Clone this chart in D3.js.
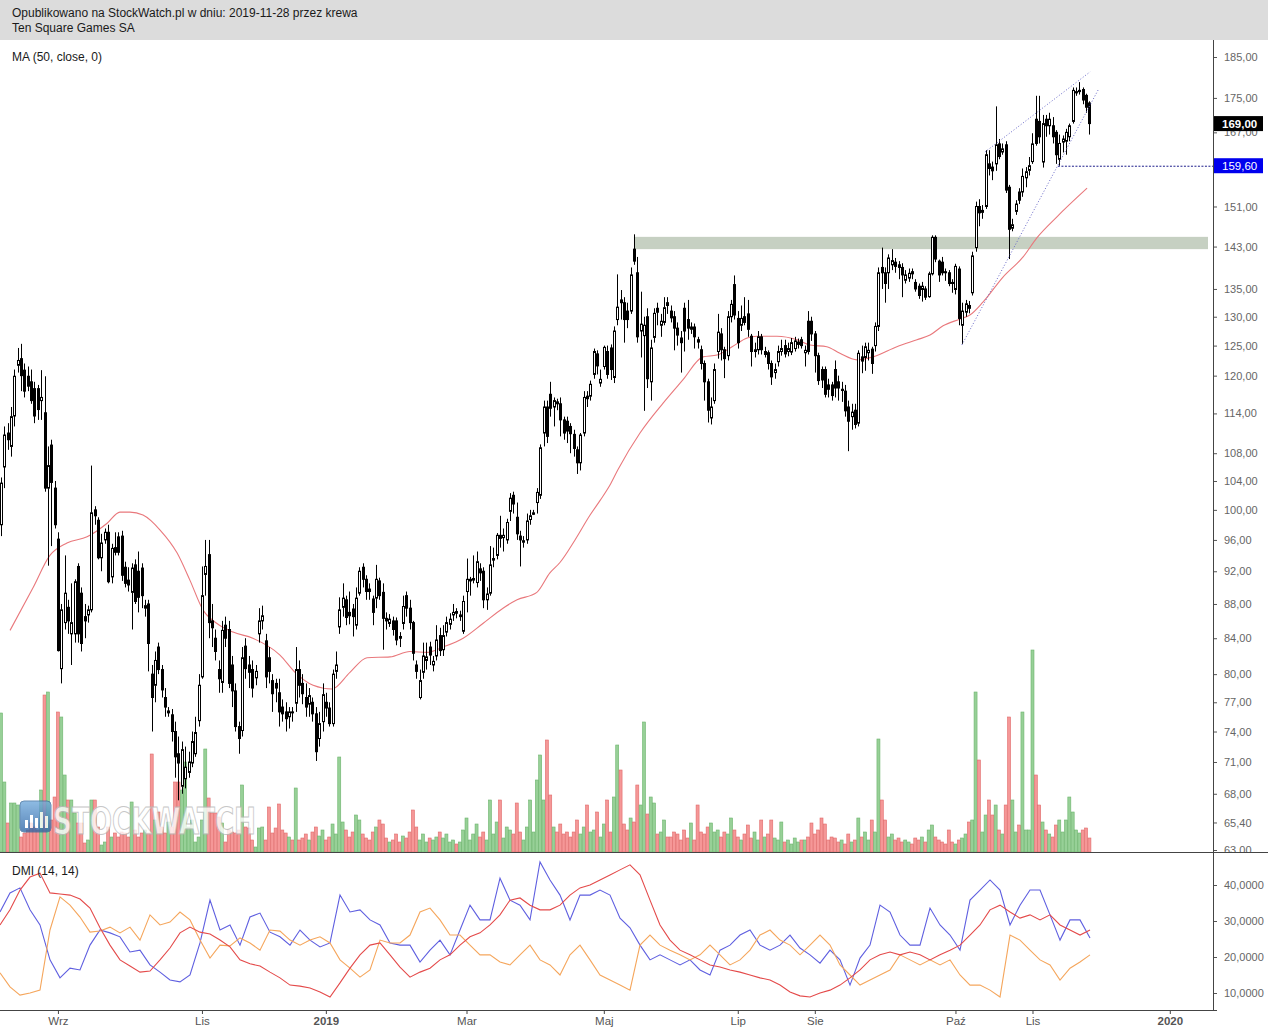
<!DOCTYPE html>
<html><head><meta charset="utf-8">
<script src="https://cdn.jsdelivr.net/npm/d3@7"></script>
<style>
html,body{margin:0;padding:0;background:#fff;}
svg{display:block;font-family:"Liberation Sans",Arial,sans-serif;}
</style></head><body>
<svg id="c" width="1268" height="1030"></svg>
<script>
// ---------- DATA ----------
const headerLine1 = "Opublikowano na StockWatch.pl w dniu: 2019-11-28 przez krewa";
const headerLine2 = "Ten Square Games SA";
const maLabel = "MA (50, close, 0)";
const dmiLabel = "DMI (14, 14)";

const opens = [
98,106,111,109,113.6,121.7,122.8,120.9,119.9,119,
117.9,117.9,116,114.1,103,109.2,103,96.1,80.6,85.8,
87.6,84.5,84.5,92.6,89.3,86.5,86.7,87.3,100,98.6,
93.7,96,97,91.3,95,96.4,96.5,92.5,90.9,89.4,
92.8,92,92.4,87.5,88,80,78.8,83,80.5,77.5,
75.9,75.7,74,71.8,68.7,69.4,70,70.9,71.8,75.1,
79.7,91.6,94.1,86,84,80.5,79.1,85.5,85,81,
78.2,74.5,74.1,83.1,81,80.5,79.6,84.5,86,83.7,
81.8,79.3,79,78,76.5,76,75.5,76,76.9,80.5,
79,77.5,76.8,77,75.8,73.3,75,77,76.4,74.8,
80.3,85.3,87.6,88.5,87,87.4,85.5,89.3,92.5,91,
89.8,88.6,88.7,90.8,89.4,86.3,85.7,86,86,84.2,
85.7,89,87.5,85.8,81,77.5,80.2,81.5,83,81,
82,84.3,82.7,84.7,85.6,86.7,87.1,86.5,84.8,89.5,
90.8,90.9,90.6,92.3,92,88.5,89.3,93.4,94,96.6,
96.3,96,99.8,102,99,96.5,95.7,96,98.7,99.4,
101,102,111,115,117,115,115.8,115.5,113,112.8,
112,110.8,108.5,106.6,111,116.7,116.7,120.2,123.6,118.8,
121.5,124,124.6,119.7,129.5,133,132.5,131,131,142.5,
138,127.5,126.7,130,119,126.4,131.5,128.5,129,132.5,
131,130,128,126.3,131.5,129.5,127.8,128.2,126,124.3,
122,119,113.3,116,124,127,124.3,123.3,130,135.8,
129.7,128.5,130,130.5,126.6,124,124.3,126.5,123.5,123.8,
122,120.5,122.3,124,125,124,123.9,124.5,125.2,126,
123.8,129.2,129.2,127,123.3,121,121,118.5,118.5,121,
119,117.6,117.5,115,113.5,114.5,112.5,123.1,123,123.8,
124.4,125,128.3,139,138,138,139.5,140,139.5,139,
136.6,137,138.2,136.2,135.5,134.9,135,133.6,137.8,144.8,
140.2,140,138.2,138,136.2,134.9,138.7,128.5,130.8,132,
134.3,142.8,151,149.8,151,160,159.3,160,164.4,162.6,
164.2,155,146.6,150,154,154,157,158.6,160.5,170,
169.5,160.4,170,168.5,168.5,167,161,164.8,165,166,
169.5,176.2,176.5,177,175.6,173.8];

const highs = [
104.5,112,112.5,115,121,124.6,125.3,122,121.5,121,
119,118.5,120.9,119.9,109,110,104,97,88,94,
88.5,90.5,91,93,90,88,87.8,106.2,100.5,99,
96.8,97.5,98,95.5,97,97,97.2,93.2,92.5,93,
93.5,94.5,93,88.5,88.5,81,82.5,83.5,81,78.5,
76.5,76.3,75,73.5,73,72.5,72,74,75.5,80,
92.6,96,96,88,85,81.5,86,86.5,86,82,
79,75,83,84,82,81.5,81,87.5,87.8,84.5,
83,80,79.5,79.5,77.3,77,76.5,76.5,83,81.5,
80,79,78.5,77.5,76.5,76,79,78,77,80.5,
82.5,88.8,90.5,89,89.5,88,90,92.5,93,91.5,
90.5,89,92.8,91.2,90.5,87,86.8,86.5,86.4,84.7,
89,89.5,88.5,86,81.5,80.5,83.5,83.5,83.6,82,
85.5,85.2,85.5,86.5,86.9,88,87.5,87.2,89,93.6,
91.3,94,94.5,93,92.5,90,95.2,95,96.9,99.2,
97.5,98.8,102.3,102.5,101,97.2,96.5,99.5,100,100,
103,109.3,116,116,119,116.5,116.3,116.5,113.5,113.5,
112.5,111.5,109,111,117.5,117.5,119.2,124.5,124.2,121,
125,125,125.2,128.3,137.7,134.8,133.5,132.5,139,145.4,
141,134.5,130,131.5,126,131.5,132.5,130.5,133.5,133.5,
132,131,129,127.5,132.5,133,129,128.8,126.5,125,
122.5,119.5,116.5,122,130.5,128,124.8,131,133,137.5,
131,132,133.5,133,127,125.5,127.5,127,124.8,124.2,
122.5,122,125,126,126,125.5,126.3,126.5,126.2,126.5,
125,131,130,127.5,123.8,121.5,121.5,119.5,119,122.5,
120,119,118.5,116,115.5,115.5,124.2,125,125.5,125.5,
124.8,129,139,142.8,139,141.5,142.5,140.8,140.2,139.8,
138.5,138.8,138.8,136.8,136,136.3,135.5,138.2,145.2,145.2,
140.5,141,138.8,138.5,136.8,139.7,139.2,132.5,133,132.8,
142,152,152.5,151.3,163,163,160.5,173,165.5,164.5,
165,155.5,148.5,152.3,154.8,159,159.3,161.5,166.8,175.5,
175.5,171,171,171.5,170.5,167.5,166.5,166.3,167.8,169,
177.5,177.5,178.8,177.5,176,174.2];

const lows = [
96.5,103,108.5,107.5,112,120.5,117.5,116.5,117.5,115.5,
112.5,113,113,102.5,92.7,95.2,97.5,82.5,79,85,
84.5,81,83.5,83.5,82.5,84,85.8,87,98,93.5,
92,95.5,90.5,90.5,94,94,90.8,90,89.5,85,
88,87,87.5,86.5,80.3,74,77,80,77.5,75.5,
75.5,73,69.5,67.4,68,68.5,69.5,70.5,71.5,74.5,
79.5,89,84,83,81.5,78,78,83,78.5,76.5,
74,71.8,73.5,79.5,78.5,77.5,78.8,83.5,85,78.5,
79,76,77,74.5,75,74,74.3,75,76,77.5,
76.8,75.5,75.5,75,71.1,72.5,74,75.5,74.5,74.5,
79.5,84.5,86.5,85.5,85.6,84.2,85,89,90,88.5,
88.5,85.5,87.5,88.5,82.7,85,85.3,84.3,83.2,83,
85,86.5,85,81.5,79.5,77.3,79.5,80.5,81,80.3,
81.5,82,82,84.2,85,86,86.3,86,84.5,87,
89,90.5,90,90.8,87.5,87.3,89,92.5,93.5,95,
94.5,95.5,98.5,99.5,96,92.6,95,95.5,98,99.3,
99.5,101.5,109,109.5,113.5,112,114.5,110.5,110,109.5,
108,107.5,105,105.5,110.5,115,116,119.5,120.2,118.2,
121,119.5,119.3,118.8,128.5,129.5,125.5,128,130.5,139.5,
125.5,123,114.4,118,116,125.5,128.5,126.5,128.5,130.5,
129,124.2,125,120.5,124,126,127,124.5,124.5,121,
116,112.6,112.3,115.5,122.8,122.5,119.6,122.5,129,129.5,
124.5,127.5,128.5,126.5,121.5,123,123.5,123.5,123,121,
118.5,119.5,121.5,123.3,123,123.2,123.4,124,124.5,124.5,
121.5,123.5,125.8,120.5,118.5,118,116.5,116.5,116,116.5,
116,115.8,113.5,108.3,111.5,111.7,112,120.4,120.8,122.5,
120.3,124,127.5,135,132.5,135,138.5,138,136.8,133.5,
136,136.3,136.8,134.5,133.2,132.7,133,133.4,137.5,140,
136.3,137.5,136.5,135.5,134.3,134,128.5,125.3,130,130.6,
133.8,142,147,148.5,150.5,157.5,156.5,158.5,161,162,
153.8,140.6,146,149.3,151.5,153,155,157.5,160,164,
164.5,159.2,166,166.5,164.5,160,159.6,162.5,162,165,
169,175.5,175.8,173.5,171.5,166.5];

const closes = [
103.7,110.7,110,113.5,119.9,122.5,120,117.5,118.3,116,
113.6,114.6,116.5,103,106.2,103.8,98,82.6,87.3,89.3,
86,85.8,90.7,84.5,83.4,86,87.3,99.6,99.2,93.7,
95.6,97,90.7,94.9,94.4,94.4,91.5,90.5,90.3,92.4,
88.3,88.8,89,87.8,83.4,77.5,81.5,80.5,78.3,76.5,
76.1,74,71.5,70.9,72.2,70.5,71,73,73.9,78.8,
89,92.6,85.8,85.2,82.5,79.5,84.9,84,79,78.2,
74.5,73.3,81.8,80.6,80.2,78.5,80.3,86,86.6,79.7,
80.3,77.9,78.5,76,75.8,75.3,76,75.9,80.5,78.8,
77.9,76.5,77.7,75.8,72,74.8,77.8,76.4,74.8,80,
81,87.3,88.7,86.4,86.6,86.5,88.7,92,91,89.5,
89.5,87,91,89,86.3,86,86.2,85,83.8,84,
87.7,87.5,85.8,82.3,80.3,79.3,82,81.9,82.1,81.4,
83.8,82.6,84.3,85.8,86.2,87,86.9,86.7,88.3,91,
91,91.1,93.2,91.8,88.5,89.2,92.8,93.6,96.6,96.2,
96.6,98.3,101.6,100.8,96.8,96,95.9,98.5,99.2,99.6,
102.4,108.8,115,110.5,114.8,116,115.5,113,111,111.3,
110.9,108.7,106.6,110.7,116.5,116.3,118.6,124,121.6,119.4,
124.7,120.2,121,127.5,131.7,132.5,129.5,129.5,137.6,140.2,
126.5,128.7,128.5,119.5,124.6,130.6,130.8,129.2,131.6,132,
129.8,128,126.8,125.5,127.5,128,128.2,126.5,125.6,122,
119,114.5,115,121,127.3,124.3,122.8,130,132.2,130.3,
125.5,129.7,129,127.8,124,124.3,126.5,124.3,124,122,
119.8,121,124,124.5,123.6,124.5,125.5,125.8,125.6,125,
124.2,124,127,123.3,119.2,119.3,117,117.8,116.8,118,
118,117.8,114.4,112.8,114.2,112.3,123.7,122.4,124.8,124.2,
122,128.3,138,138,136,140.8,140.3,139.2,139,137.6,
137.6,137.9,137.8,135,133.8,135.5,133.5,137.8,144.8,140.6,
137.6,138,138,136,136,139.2,129.7,131,132.3,131.5,
141.2,151,149.7,150.2,162,159,158.5,164.2,161.6,163.3,
154.4,146.4,147.3,151.5,152.3,157.3,158.3,159.6,164.4,164.5,
166,169,168.5,170,166,162,164.5,165.5,167,168.5,
176.8,176.5,176.8,174.5,172.8,169];

const volumes = [
139,70,29,49,49,47,15,19,22,29,
25,22,62,157,160,32,55,140,135,77,
52,52,39,29,29,9,12,52,52,25,
7,10,25,15,19,15,20,19,15,50,
22,15,19,22,19,98,32,40,25,19,
30,25,70,70,62,90,25,32,10,15,
32,103,54,39,39,35,29,10,22,20,
19,22,67,25,24,12,5,24,25,12,
45,19,24,48,22,19,15,12,64,12,
14,18,12,20,25,16,22,12,15,28,
18,95,30,22,15,20,37,32,18,14,
12,20,25,32,28,14,10,12,18,10,
16,14,20,42,25,12,18,10,14,12,
15,20,14,18,10,12,8,10,22,34,
12,18,28,15,20,12,52,18,30,52,
14,25,22,18,49,20,12,25,52,20,
72,97,52,112,57,25,20,28,18,20,
15,20,32,18,25,47,20,22,40,15,
28,52,20,55,107,82,28,22,34,30,
67,47,130,38,55,49,18,20,32,15,
15,20,18,12,22,14,29,12,47,20,
18,25,29,20,22,15,20,18,34,22,
15,12,18,27,14,20,12,32,15,18,
32,14,12,30,10,12,8,14,10,12,
12,15,29,18,22,34,28,12,15,14,
10,12,8,18,10,12,34,15,20,12,
32,20,113,52,32,15,18,12,14,10,
12,10,8,14,12,15,10,22,27,15,
12,10,8,22,10,8,12,14,18,30,
32,160,92,20,37,52,37,47,22,18,
47,135,52,20,27,140,22,22,202,77,
47,30,22,18,15,27,32,20,32,55,
40,22,19,22,24,14];

// MA(50) line: session index and value
const maIdx = [2.7,9.6,14.6,19.7,25.7,31.7,35.5,38.5,42.4,47.5,52.6,56.4,60.3,64.5,69.3,75.2,83.3,87.8,93.2,98.8,104.2,109.3,116.2,122.1,127.2,132,138,143.9,149.9,154.1,160,163.9,166.9,171.4,175.9,178.9,181.8,184.2,190.8,197.7,203.6,209.6,213.8,218.3,222.8,225.7,231.7,237.7,241.6,246.6,250.5,255.6,260.4,267.5,273.5,277.4,281.3,286.4,289.3,293.2,299.2,305.2,309.3,315.3,324.3];
const maVal = [84.9,90,94,95.6,96.4,98.2,99.7,99.7,99.3,97.3,94.3,90.9,87.3,85.7,84.7,84,82.1,80.2,78.8,78.4,80.2,81.8,81.9,82.5,82.4,83,84,85.7,87.5,88.5,89.4,91.8,93.1,96,99.3,101.3,103.4,105.6,111,115.6,119.3,123.1,123.4,124.8,126.3,126.6,126.6,126,125.1,124.8,123.7,122.6,123.1,124.8,126,126.8,128.4,129.6,130.3,132.6,137.2,141,144.7,148.9,154.8];

// DMI, sampled about every 3 sessions
const diPlus = [32.5,37.8,39.2,33.1,28.9,19.2,14.2,16.9,16.4,23.3,
27.5,26.7,25.6,21.4,21.9,17.8,15.8,13.6,13.1,15,
23.9,35.8,27.5,28.9,23.3,31.1,32.2,26.9,25.6,23.3,
27.5,24.7,22.8,23.9,37.2,32.5,33.1,30.3,28.9,23.9,
23.3,23.3,18.6,21.9,24.7,20.6,27.5,34.4,30.3,30.3,
41.9,35.8,34.4,30.3,46.4,41.4,37.2,30.3,37.2,37.2,
38.6,37.2,30.8,28.1,23.3,19.2,20.6,19.2,17.8,19.2,
16.4,15,21.9,23.3,26.1,27.5,23.3,21.9,23.3,26.1,
22.5,20.6,18.3,21.9,19.2,12.2,19.7,23.3,34.4,32.5,
26.1,23.3,23.3,33.6,28.9,26.1,21.9,35.8,38.6,41.4,
38.6,28.9,34.4,38.6,38.6,31.7,24.7,30.3,30.3,25.3];
const diMinus = [15.6,11.7,9.4,10,10.8,27.5,36.7,34.4,31.1,26.9,
27.2,28.3,26.7,28.3,24.7,31.7,28.9,29.7,32.5,30.3,
24.7,19.7,23.3,23.1,25.3,23.9,21.9,27.5,27.2,24.7,
23.3,24.7,25.6,23.9,19.2,16.9,14.4,16.4,24.7,23.9,
23.9,26.1,32.5,33.6,30.3,26.1,26.1,23.3,20.6,20.6,
18.6,17.8,20.6,23.3,19.2,17.8,15,20.6,23.3,19.2,
15,13.6,12.2,10.8,23.3,26.1,23.3,21.9,20.6,19.2,
20.6,23.3,20.6,17.8,19.2,21.9,26.1,27.5,24.7,23.3,
20.6,23.3,26.1,23.3,17.8,15,12.2,13.6,15,16.4,
20.6,19.2,17.8,19.2,17.8,19.2,15,12.2,12.2,10.8,
8.9,26.1,24.7,21.9,19.2,17.8,13.6,16.9,18.6,20.6];
const adx = [28.9,33.1,38.6,42.2,43.3,37.8,37.5,37.2,36.1,33.6,
28.1,23.3,19.2,17.5,15.8,16.1,19.2,22.5,26.7,28.3,
26.9,26.4,24.7,22.8,19.2,18.1,17.5,15.8,14.2,12.2,
11.9,11.4,10.3,8.9,12.8,16.9,20.6,23.3,23.9,20.6,
17.2,14.4,15.8,16.9,19.2,20.6,23.3,25.6,26.7,28.9,
31.7,35.8,36.4,34.4,33.1,33.1,34.4,37.2,39.2,40,
41.4,42.8,44.2,45.6,42.8,35.8,28.9,24.7,21.9,20.6,
19.2,17.8,17.2,16.4,15.8,15,14.2,13.6,12.2,10.3,
9.2,8.9,10,10.8,12.2,14.2,16.4,19.2,20.6,21.4,
20.6,21.4,20.6,19.2,20.6,21.9,23.3,26.1,28.9,33.1,
34.4,32.5,30.8,31.7,30.3,31.7,28.9,27.5,26.1,27.5];

const priceTicks = [185,175,167,151,143,135,130,125,120,114,108,104,100,96,92,88,84,80,77,74,71,68,65.4,63];
const dmiTicks = [40,30,20,10];
const monthIdx = [17,60,97,139,180,220,243,285,308,349];
const monthLabels = ["Wrz","Lis","2019","Mar","Maj","Lip","Sie","Paź","Lis","2020"];
const boldLabels = ["2019","2020"];

const lastPrice = 169.00;
const supportLevel = 159.60;
const zone = {startIdx:189, low:142.5, high:144.9};
const trendLower = [[286.9,125.1],[327.6,176.9]];
const trendUpper = [[293.8,162.6],[325.2,181.3]];
const supportStart = 315.6;

// ---------- LAYOUT ----------
const W=1268, H=1030, axisX=1213;
const mainTop=40, mainBot=852, dmiBot=1010;
const svg=d3.select('#c');

const x=d3.scaleLinear().domain([0,362]).range([1,1+3.349*362]);
const y=d3.scaleLog().domain([63,185]).range([850,57]);
const yv=d3.scaleLinear().domain([0,202]).range([mainBot,650]);
const yd=d3.scaleLinear().domain([0,40]).range([1029,885]);
const comma=(f)=>d=>f(d).replace('.',',');

const defs=svg.append('defs');
defs.append('clipPath').attr('id','cm').append('rect').attr('x',0).attr('y',mainTop).attr('width',axisX).attr('height',mainBot-mainTop);
defs.append('clipPath').attr('id','cd').append('rect').attr('x',0).attr('y',mainBot).attr('width',axisX).attr('height',dmiBot-mainBot);
defs.append('clipPath').attr('id','ca').append('rect').attr('x',axisX-5).attr('y',mainTop).attr('width',60).attr('height',mainBot-mainTop);
const lg=defs.append('linearGradient').attr('id','lg').attr('x1',0).attr('y1',0).attr('x2',0).attr('y2',1);
lg.append('stop').attr('offset','0').attr('stop-color','#6fa9dc');
lg.append('stop').attr('offset','1').attr('stop-color','#2c64a4');

// header
svg.append('rect').attr('x',0).attr('y',0).attr('width',W).attr('height',mainTop).attr('fill','#dcdcdc');
svg.append('text').attr('x',12).attr('y',17).attr('font-size',12).attr('fill','#1a1a1a').text(headerLine1);
svg.append('text').attr('x',12).attr('y',32).attr('font-size',12).attr('fill','#1a1a1a').text(headerLine2);

// main panel
const gm=svg.append('g').attr('clip-path','url(#cm)');
gm.append('rect').attr('x',x(zone.startIdx)).attr('y',y(zone.high))
  .attr('width',axisX-5-x(zone.startIdx)).attr('height',y(zone.low)-y(zone.high)).attr('fill','#c6d0c2');

const idx=d3.range(closes.length);
const up=i=>closes[i]>=opens[i];
gm.append('g').selectAll('rect').data(idx).join('rect')
  .attr('x',i=>x(i)-1.5).attr('width',3)
  .attr('y',i=>yv(volumes[i])).attr('height',i=>mainBot-yv(volumes[i]))
  .attr('fill',i=>up(i)?'#97d097':'#f59797')
  .attr('stroke',i=>up(i)?'#6db46d':'#e06a6a').attr('stroke-width',0.6);

// watermark
const wm=gm.append('g').attr('opacity',0.78);
wm.append('rect').attr('x',20).attr('y',801).attr('width',31).attr('height',31).attr('rx',4).attr('fill','url(#lg)').attr('stroke','#3d6f9f').attr('stroke-width',1);
[[25,820],[30,815],[35,818],[40,812],[45,816]].forEach(([bx,by])=>{
  wm.append('rect').attr('x',bx).attr('y',by).attr('width',3).attr('height',828-by).attr('fill','#ffffff');
});
wm.append('text').attr('x',53).attr('y',834).attr('font-size',38).attr('font-weight','bold')
  .attr('font-family','"DejaVu Sans Condensed","DejaVu Sans",sans-serif')
  .attr('textLength',203).attr('lengthAdjust','spacingAndGlyphs')
  .attr('fill','#ffffff').attr('stroke','#b8b8b8').attr('stroke-width',1).text('STOCKWATCH');

// MA
gm.append('path').datum(d3.range(maIdx.length))
  .attr('d',d3.line().x(i=>x(maIdx[i])).y(i=>y(maVal[i])).curve(d3.curveMonotoneX))
  .attr('fill','none').attr('stroke','#e9787c').attr('stroke-width',1.1);

// candles
const cx=i=>Math.round(x(i));
gm.append('g').selectAll('line').data(idx).join('line')
  .attr('x1',i=>cx(i)+0.5).attr('x2',i=>cx(i)+0.5)
  .attr('y1',i=>y(highs[i])).attr('y2',i=>y(lows[i]))
  .attr('stroke','#000').attr('stroke-width',1);
gm.append('g').selectAll('rect').data(idx).join('rect')
  .attr('x',i=>cx(i)-0.5).attr('width',2)
  .attr('y',i=>y(Math.max(opens[i],closes[i])))
  .attr('height',i=>Math.max(0.8,y(Math.min(opens[i],closes[i]))-y(Math.max(opens[i],closes[i]))))
  .attr('fill',i=>up(i)?'#fff':'#000').attr('stroke','#000').attr('stroke-width',1);

// trend lines
[trendLower,trendUpper].forEach(t=>{
  gm.append('line').attr('x1',x(t[0][0])).attr('y1',y(t[0][1])).attr('x2',x(t[1][0])).attr('y2',y(t[1][1]))
    .attr('stroke','#6868c8').attr('stroke-width',1).attr('stroke-dasharray','1,2');
});
gm.append('line').attr('x1',x(supportStart)).attr('x2',axisX).attr('y1',y(supportLevel)+0.5).attr('y2',y(supportLevel)+0.5)
  .attr('stroke','#1c1c8a').attr('stroke-width',1).attr('stroke-dasharray','2,1.5');

svg.append('text').attr('x',12).attr('y',61).attr('font-size',12).attr('fill','#1a1a1a').text(maLabel);

// price axis
const ga=svg.append('g').attr('clip-path','url(#ca)').append('g').attr('transform',`translate(${axisX},0)`)
  .call(d3.axisRight(y).tickValues(priceTicks).tickFormat(comma(d3.format('.2f'))).tickSize(4).tickPadding(7));
ga.select('.domain').remove();
ga.selectAll('line').attr('stroke','#555');
ga.selectAll('text').attr('font-size',11).attr('fill','#666').attr('font-family','"Liberation Sans",Arial,sans-serif');

// price labels
function tag(v,bg,bold){
  const yy=y(v);
  svg.append('rect').attr('x',axisX+1).attr('y',yy-7.5).attr('width',49).attr('height',15).attr('fill',bg);
  svg.append('text').attr('x',axisX+9).attr('y',yy+4.5).attr('font-size',11.5).attr('font-weight',bold?'bold':'normal')
    .attr('fill','#fff').text(comma(d3.format('.2f'))(v));
}
tag(lastPrice,'#000',true);
tag(supportLevel,'#0000ee',false);

// DMI panel
const gd=svg.append('g').attr('clip-path','url(#cd)');
const dIdx=k=>k*2.986-0.3;
[[diPlus,'#5f5fe0'],[diMinus,'#f5a65c'],[adx,'#e44a4a']].forEach(([arr,col])=>{
  gd.append('path').datum(arr).attr('d',d3.line().x((d,k)=>x(dIdx(k))).y(d=>yd(d)))
    .attr('fill','none').attr('stroke',col).attr('stroke-width',1.1);
});
svg.append('text').attr('x',12).attr('y',875).attr('font-size',12).attr('fill','#1a1a1a').text(dmiLabel);
const gda=svg.append('g').attr('transform',`translate(${axisX},0)`)
  .call(d3.axisRight(yd).tickValues(dmiTicks).tickFormat(comma(d3.format('.4f'))).tickSize(4).tickPadding(7));
gda.select('.domain').remove();
gda.selectAll('line').attr('stroke','#555');
gda.selectAll('text').attr('font-size',11).attr('fill','#666').attr('font-family','"Liberation Sans",Arial,sans-serif');

// frame lines
svg.append('line').attr('x1',axisX+0.5).attr('x2',axisX+0.5).attr('y1',mainTop).attr('y2',dmiBot).attr('stroke','#444');
svg.append('line').attr('x1',0).attr('x2',W).attr('y1',mainBot+0.5).attr('y2',mainBot+0.5).attr('stroke','#444');
svg.append('line').attr('x1',0).attr('x2',axisX+4).attr('y1',dmiBot+0.5).attr('y2',dmiBot+0.5).attr('stroke','#444');

// time axis
const gx=svg.append('g').attr('transform',`translate(0,${dmiBot})`)
  .call(d3.axisBottom(x).tickValues(monthIdx).tickFormat((d,i)=>monthLabels[i]).tickSize(4).tickPadding(3));
gx.select('.domain').remove();
gx.selectAll('line').attr('stroke','#444');
gx.selectAll('text').attr('font-size',11.5).attr('fill','#555').attr('font-family','"Liberation Sans",Arial,sans-serif')
  .attr('font-weight',(d,i)=>boldLabels.includes(monthLabels[i])?'bold':'normal');
</script>
</body></html>
